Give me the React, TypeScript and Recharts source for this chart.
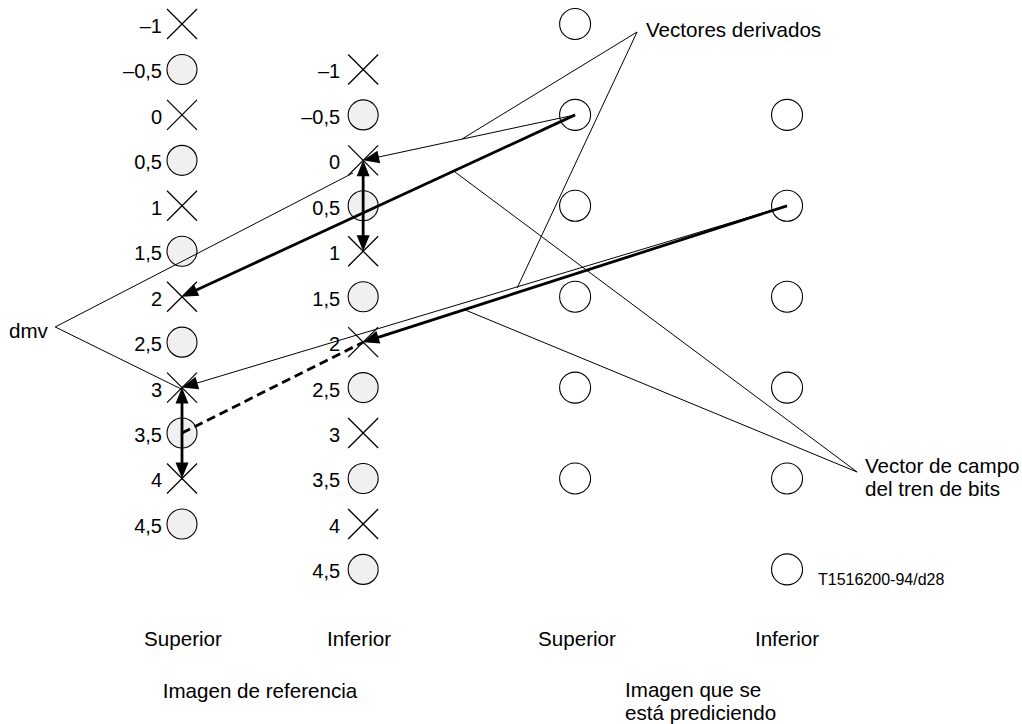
import React from 'react';
import { ScatterChart, Scatter, XAxis, YAxis, ReferenceLine, Customized } from 'recharts';

document.body.style.margin = '0';

// columns, in field units (reference top field = 0, reference bottom field = 1)
const COL_REF_TOP = 0;
const COL_REF_BOTTOM = 1;
const COL_PRED_TOP = 2.17;
const COL_PRED_BOTTOM = 3.34;

// vertical positions in lines; the bottom field sits half a line lower
const BOTTOM_OFFSET = 0.5;
const refValues = [-1, -0.5, 0, 0.5, 1, 1.5, 2, 2.5, 3, 3.5, 4, 4.5];
const predTopRows = [-1, 0, 1, 2, 3, 4];
const predBottomRows = [0, 1, 2, 3, 4, 5];

// motion vectors: [x, y] from -> to
const vectors = [
  { from: [COL_PRED_TOP, 0], to: [COL_REF_TOP, 2], thick: true, heads: 'end' },
  { from: [COL_PRED_TOP, 0], to: [COL_REF_BOTTOM, 0 + BOTTOM_OFFSET], thick: false, heads: 'end' },
  { from: [COL_REF_BOTTOM, 0 + BOTTOM_OFFSET], to: [COL_REF_BOTTOM, 1 + BOTTOM_OFFSET], thick: true, heads: 'both' },
  { from: [COL_PRED_BOTTOM, 1], to: [COL_REF_BOTTOM, 2 + BOTTOM_OFFSET], thick: true, heads: 'end' },
  { from: [COL_PRED_BOTTOM, 1], to: [COL_REF_TOP, 3], thick: false, heads: 'end' },
  { from: [COL_REF_TOP, 3.5], to: [COL_REF_BOTTOM, 2 + BOTTOM_OFFSET], thick: true, heads: 'none', dashed: true },
  { from: [COL_REF_TOP, 3], to: [COL_REF_TOP, 4], thick: true, heads: 'both' },
];

// leader lines for the callouts: [x, y] anchor -> target
const leaders = [
  { from: [-0.7, 2.333], to: [0.944, 0.639] },
  { from: [-0.7, 2.333], to: [0, 3.02] },
  { from: [2.512, -0.912], to: [1.546, 0.265] },
  { from: [2.512, -0.912], to: [1.85, 1.904] },
  { from: [3.727, 3.929], to: [1.507, 0.628] },
  { from: [3.727, 3.929], to: [1.563, 2.146] },
];

const refTopData = refValues.map((v) => ({ x: COL_REF_TOP, y: v, v, col: 'top' }));
const refBottomData = refValues.map((v) => ({ x: COL_REF_BOTTOM, y: v + BOTTOM_OFFSET, v, col: 'bottom' }));
const predTopData = predTopRows.map((r) => ({ x: COL_PRED_TOP, y: r }));
const predBottomData = predBottomRows.map((r) => ({ x: COL_PRED_BOTTOM, y: r }));

const FONT = '"Liberation Sans", Arial, sans-serif';

const fmt = (v: number) => (v < 0 ? '\u2013' : '') + String(Math.abs(v)).replace('.', ',');

const RefMark = (props: any) => {
  const { cx, cy, payload } = props;
  const isCross = Number.isInteger(payload.v);
  const labelX = payload.col === 'top' ? cx - 20 : cx - 23;
  return (
    <g>
      {isCross ? (
        <g stroke="#000" strokeWidth={1.3}>
          <line x1={cx - 15} y1={cy - 15} x2={cx + 15} y2={cy + 15} />
          <line x1={cx - 15} y1={cy + 15} x2={cx + 15} y2={cy - 15} />
        </g>
      ) : (
        <circle cx={cx} cy={cy} r={15} fill="#f0f0f0" stroke="#000" strokeWidth={1.1} />
      )}
      <text x={labelX} y={cy + 9} textAnchor="end" fontSize={20} fontFamily={FONT} fill="#000">
        {fmt(payload.v)}
      </text>
    </g>
  );
};

const PredMark = (props: any) => (
  <circle cx={props.cx} cy={props.cy} r={15.5} fill="#fff" stroke="#000" strokeWidth={1.1} />
);

const headPoints = (tx: number, ty: number, fx: number, fy: number) => {
  const len = Math.hypot(tx - fx, ty - fy) || 1;
  const ux = (tx - fx) / len;
  const uy = (ty - fy) / len;
  const L = 16;
  const H = 6.5;
  const bx = tx - ux * L;
  const by = ty - uy * L;
  return `${tx},${ty} ${bx - uy * H},${by + ux * H} ${bx + uy * H},${by - ux * H}`;
};

const Arrow = (props: any) => {
  const { x1, y1, x2, y2, vec } = props;
  const w = vec.thick ? 2.8 : 1;
  const len = Math.hypot(x2 - x1, y2 - y1) || 1;
  const ux = (x2 - x1) / len;
  const uy = (y2 - y1) / len;
  const endCut = vec.heads !== 'none' ? 10 : 0;
  const startCut = vec.heads === 'both' ? 10 : 0;
  return (
    <g>
      <line
        x1={x1 + ux * startCut}
        y1={y1 + uy * startCut}
        x2={x2 - ux * endCut}
        y2={y2 - uy * endCut}
        stroke="#000"
        strokeWidth={w}
        strokeDasharray={vec.dashed ? '9 5' : undefined}
      />
      {vec.heads !== 'none' && <polygon points={headPoints(x2, y2, x1, y1)} fill="#000" />}
      {vec.heads === 'both' && <polygon points={headPoints(x1, y1, x2, y2)} fill="#000" />}
    </g>
  );
};

const Annotations = () => (
  <g fontFamily={FONT} fill="#000" fontSize={20.6}>
    <text x={646} y={37}>Vectores derivados</text>
    <text x={9} y={338}>dmv</text>
    <text x={865} y={473}>Vector de campo</text>
    <text x={865} y={496}>del tren de bits</text>
    <text x={818} y={585} fontSize={16}>T1516200-94/d28</text>
    <text x={183} y={646} textAnchor="middle">Superior</text>
    <text x={359} y={646} textAnchor="middle">Inferior</text>
    <text x={577} y={646} textAnchor="middle">Superior</text>
    <text x={787} y={646} textAnchor="middle">Inferior</text>
    <text x={260} y={698} textAnchor="middle">Imagen de referencia</text>
    <text x={625} y={697}>Imagen que se</text>
    <text x={625} y={720}>está prediciendo</text>
  </g>
);

export default function App() {
  return (
    <div style={{ width: 1022, height: 724, background: '#fff' }}>
      <ScatterChart width={1022} height={724} margin={{ top: 0, right: 0, bottom: 0, left: 0 }}>
        <XAxis type="number" dataKey="x" domain={[-1.0047, 4.637]} hide allowDataOverflow />
        <YAxis type="number" dataKey="y" domain={[-1.264, 6.701]} reversed hide allowDataOverflow />
        <Scatter data={refTopData} shape={RefMark} isAnimationActive={false} zIndex={100} />
        <Scatter data={refBottomData} shape={RefMark} isAnimationActive={false} zIndex={100} />
        <Scatter data={predTopData} shape={PredMark} isAnimationActive={false} zIndex={100} />
        <Scatter data={predBottomData} shape={PredMark} isAnimationActive={false} zIndex={100} />
        {leaders.map((l, i) => (
          <ReferenceLine
            key={`leader-${i}`}
            segment={[{ x: l.from[0], y: l.from[1] }, { x: l.to[0], y: l.to[1] }]}
            stroke="#000"
            strokeWidth={1}
            ifOverflow="visible"
            zIndex={1000}
          />
        ))}
        {vectors.map((vec, i) => (
          <ReferenceLine
            key={`vec-${i}`}
            segment={[{ x: vec.from[0], y: vec.from[1] }, { x: vec.to[0], y: vec.to[1] }]}
            ifOverflow="visible"
            zIndex={1000}
            shape={(p: any) => <Arrow {...p} vec={vec} />}
          />
        ))}
        <Customized component={Annotations} />
      </ScatterChart>
    </div>
  );
}
